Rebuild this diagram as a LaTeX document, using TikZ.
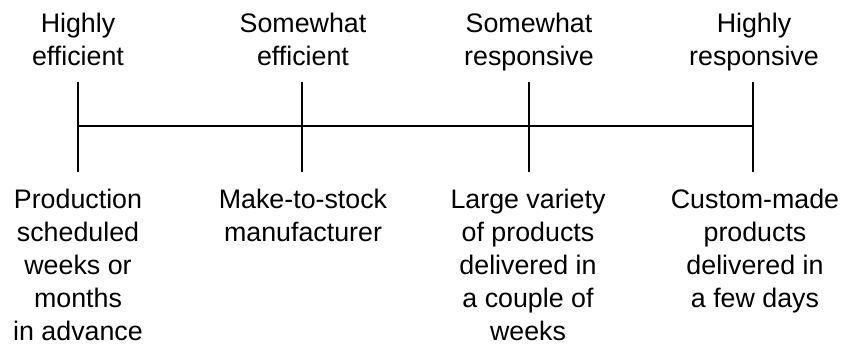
\documentclass[tikz,border=0pt]{standalone}
\usepackage{fontspec}
\setmainfont{Liberation Sans}
\begin{document}
\begin{tikzpicture}[x=1pt,y=1pt,
  lab/.style={align=center, inner sep=0pt, anchor=north, font=\fontsize{26.8}{33}\selectfont},
  axisline/.style={line width=2.8pt}]
\useasboundingbox (0,0) rectangle (844,345);
% tick coordinates
\foreach \n/\x in {1/78,2/302,3/529,4/753}{
  \coordinate (top\n) at (\x,263);
  \coordinate (mid\n) at (\x,219);
  \coordinate (bot\n) at (\x,173);
}
\draw[axisline] (mid1) -- (mid4);
\foreach \n in {1,2,3,4}{
  \draw[axisline] (top\n) -- (bot\n);
}
% top labels
\node[lab] (h1) at (78,332) {Highly\\efficient};
\node[lab] (h2) at (303,332) {Somewhat\\efficient};
\node[lab] (h3) at (529,332) {Somewhat\\responsive};
\node[lab] (h4) at (754,332) {Highly\\responsive};
% bottom labels
\node[lab] (d1) at (78,156) {Production\\scheduled\\weeks or\\months\\in advance};
\node[lab] (d2) at (303,156) {Make-to-stock\\manufacturer};
\node[lab] (d3) at (528,156) {Large variety\\of products\\delivered in\\a couple of\\weeks};
\node[lab] (d4) at (755,156) {Custom-made\\products\\delivered in\\a few days};
\end{tikzpicture}
\end{document}
